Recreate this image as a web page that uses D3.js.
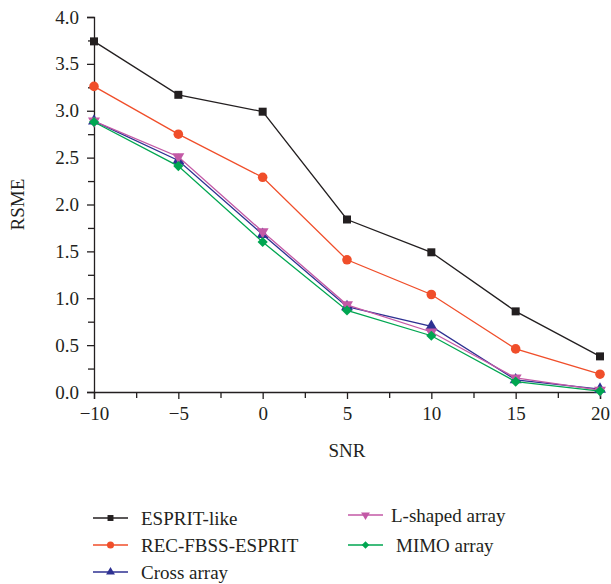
<!DOCTYPE html>
<html>
<head>
<meta charset="utf-8">
<script src="https://cdn.jsdelivr.net/npm/d3@7"></script>
<style>
  body { margin: 0; background: #fff; }
  text { font-family: "Liberation Serif", "DejaVu Serif", serif; fill: #231f20; }
</style>
</head>
<body>
<div id="plot-canvas"></div>
<script>
const snr = [-10, -5, 0, 5, 10, 15, 20];
const espritLike = [3.74, 3.17, 2.99, 1.84, 1.49, 0.86, 0.38];
const recFbss = [3.26, 2.75, 2.29, 1.41, 1.04, 0.46, 0.19];
const crossArray = [2.89, 2.47, 1.68, 0.91, 0.70, 0.13, 0.03];
const lShaped = [2.89, 2.51, 1.71, 0.93, 0.64, 0.15, 0.02];
const mimoArray = [2.88, 2.41, 1.60, 0.87, 0.60, 0.11, 0.01];
const xTicks = [-10, -5, 0, 5, 10, 15, 20];
const yTicks = [0, 0.5, 1, 1.5, 2, 2.5, 3, 3.5, 4];

const series = [
    {name: "ESPRIT-like", values: espritLike, color: "#231f20", symbol: d3.symbolSquare, size: 64, rot: 0},
    {name: "REC-FBSS-ESPRIT", values: recFbss, color: "#f04e2a", symbol: d3.symbolCircle, size: 72, rot: 0},
    {name: "Cross array", values: crossArray, color: "#2e3192", symbol: d3.symbolTriangle, size: 62, rot: 0},
    {name: "L-shaped array", values: lShaped, color: "#c359a6", symbol: d3.symbolTriangle, size: 62, rot: 180},
    {name: "MIMO array", values: mimoArray, color: "#00a651", symbol: d3.symbolSquare, size: 52, rot: 45}
];

const margin = {top: 17, right: 11, bottom: 192, left: 94};
const width = 611 - margin.left - margin.right,
    height = 584 - margin.top - margin.bottom;

const x = d3.scaleLinear().domain([-10, 20]).range([0, width]);
const y = d3.scaleLinear().domain([0, 4]).range([height, 0]);

const svg = d3.select("#plot-canvas").append("svg")
    .attr("width", 611)
    .attr("height", 584)
    .append("g").attr("transform", "translate(" + margin.left + "," + margin.top + ")");

// minor ticks
svg.append("g")
    .attr("transform", "translate(0," + height + ")")
    .call(d3.axisBottom(x).tickValues(d3.range(-7.5, 20, 5)).tickSize(6).tickFormat(""))
    .call(g => g.select(".domain").remove());
svg.append("g")
    .call(d3.axisLeft(y).tickValues(d3.range(0.25, 4, 0.5)).tickSize(6).tickFormat(""))
    .call(g => g.select(".domain").remove());

// x-axis
const xAxis = svg.append("g")
    .attr("transform", "translate(0," + height + ")")
    .call(d3.axisBottom(x).tickValues(xTicks).tickSize(7).tickPadding(8)
        .tickFormat(d => d < 0 ? "\u2212" + Math.abs(d) : d));
xAxis.selectAll("text").style("font-size", "19px");

// y-axis
const yAxis = svg.append("g")
    .call(d3.axisLeft(y).tickValues(yTicks).tickSize(7).tickPadding(8).tickFormat(d3.format(".1f")));
yAxis.selectAll("text").style("font-size", "19px");

svg.selectAll(".domain, .tick line").attr("stroke", "#231f20").attr("stroke-width", 1.3);

svg.append("text")
    .attr("transform", "rotate(-90)")
    .attr("x", -height / 2)
    .attr("y", -70)
    .style("text-anchor", "middle")
    .style("font-size", "19px")
    .text("RSME");

svg.append("text")
    .attr("x", x(5))
    .attr("y", height + 65)
    .style("text-anchor", "middle")
    .style("font-size", "19px")
    .text("SNR");

const line = d3.line()
    .x((d, i) => x(snr[i]))
    .y(d => y(d));

series.forEach(function (s) {
    svg.append("path")
        .datum(s.values)
        .attr("fill", "none")
        .attr("stroke", s.color)
        .attr("stroke-width", 1.3)
        .attr("d", line);
    svg.selectAll(null)
        .data(s.values)
        .enter().append("path")
        .attr("d", d3.symbol().type(s.symbol).size(s.size))
        .attr("transform", (d, i) => "translate(" + x(snr[i]) + "," + y(d) + ") rotate(" + s.rot + ")")
        .attr("fill", s.color);
});

// legend
const legendPos = [
    {x: 93, y: 518}, {x: 93, y: 545}, {x: 93, y: 572},
    {x: 348, y: 515}, {x: 348, y: 545}
];
const textOffset = [48, 48, 48, 43, 48];
const legend = d3.select("svg");
series.forEach(function (s, i) {
    const p = legendPos[i];
    const g = legend.append("g").attr("transform", "translate(" + p.x + "," + p.y + ")");
    g.append("line").attr("x1", 0).attr("x2", 35).attr("y1", 0).attr("y2", 0)
        .attr("stroke", s.color).attr("stroke-width", 1.3);
    g.append("path")
        .attr("d", d3.symbol().type(s.symbol).size(s.size * 0.55))
        .attr("transform", "translate(17.5,0) rotate(" + s.rot + ")")
        .attr("fill", s.color);
    g.append("text")
        .attr("x", textOffset[i])
        .attr("y", 0)
        .attr("dy", "0.35em")
        .style("font-size", "19px")
        .text(s.name);
});
</script>
</body>
</html>
